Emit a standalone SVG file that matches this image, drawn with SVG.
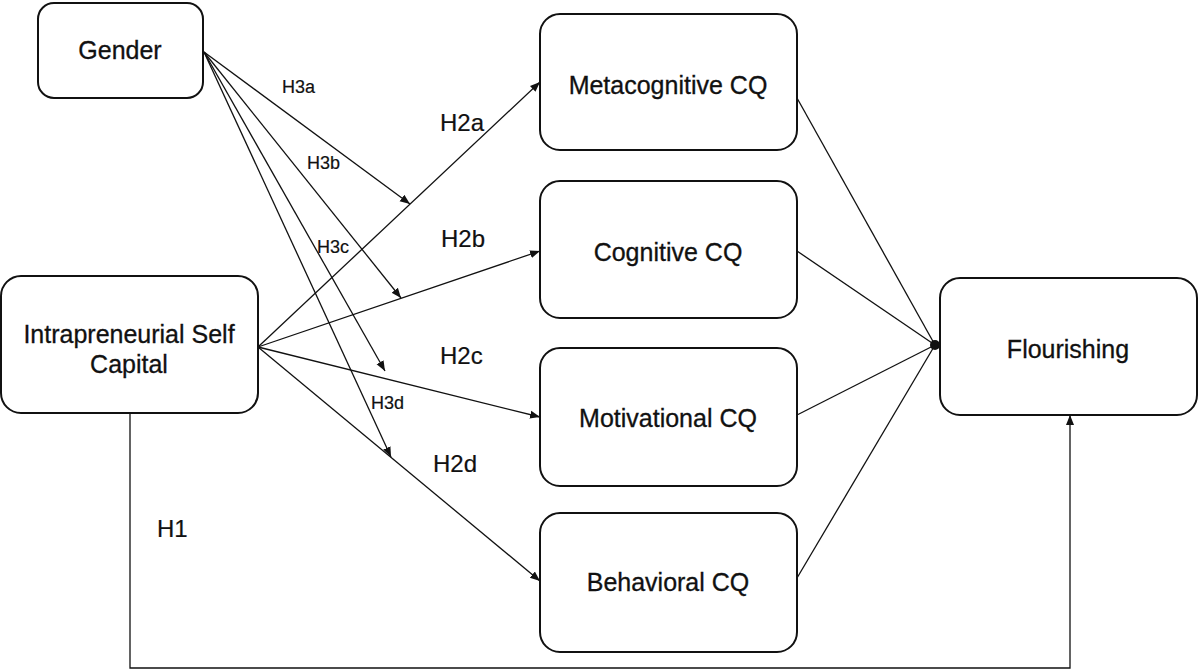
<svg xmlns="http://www.w3.org/2000/svg" width="1200" height="672" viewBox="0 0 1200 672">
<style>
.box{fill:#fff;stroke:#111;stroke-width:2}
.lbl{font-family:"Liberation Sans",Arial,sans-serif;font-size:25px;fill:#111;stroke:#111;stroke-width:0.3;text-anchor:middle}
.h{font-family:"Liberation Sans",Arial,sans-serif;font-size:24px;fill:#111;stroke:#111;stroke-width:0.2}
.hs{font-family:"Liberation Sans",Arial,sans-serif;font-size:18px;fill:#111;stroke:#111;stroke-width:0.2}
.c{fill:none;stroke:#111;stroke-width:1.3}
</style>
<defs>
<marker id="arr" viewBox="0 0 10 10" refX="10" refY="5" markerWidth="10" markerHeight="10" markerUnits="userSpaceOnUse" orient="auto">
<path d="M0,1 L10,5 L0,9 z" fill="#111"/>
</marker>
<marker id="dot" viewBox="0 0 10 10" refX="5" refY="5" markerWidth="10" markerHeight="10" markerUnits="userSpaceOnUse">
<circle cx="5" cy="5" r="5" fill="#111"/>
</marker>
</defs>
<g id="connectors">
<line class="c" x1="258" y1="347" x2="540" y2="82" marker-end="url(#arr)"/>
<line class="c" x1="258" y1="347" x2="540" y2="251" marker-end="url(#arr)"/>
<line class="c" x1="258" y1="347" x2="540" y2="417" marker-end="url(#arr)"/>
<line class="c" x1="258" y1="347" x2="540" y2="581" marker-end="url(#arr)"/>
<line class="c" x1="204" y1="52" x2="410" y2="204" marker-end="url(#arr)"/>
<line class="c" x1="204" y1="52" x2="401" y2="298" marker-end="url(#arr)"/>
<line class="c" x1="204" y1="52" x2="385" y2="371" marker-end="url(#arr)"/>
<line class="c" x1="204" y1="52" x2="391" y2="457" marker-end="url(#arr)"/>
<line class="c" x1="797" y1="98" x2="935" y2="345"/>
<line class="c" x1="797" y1="251" x2="935" y2="345"/>
<line class="c" x1="797" y1="415" x2="935" y2="345"/>
<line class="c" x1="797" y1="578" x2="935" y2="345" marker-end="url(#dot)"/>
<polyline class="c" points="130,413 130,668 1070,668 1070,415" marker-end="url(#arr)"/>
<text class="hs" x="282" y="93">H3a</text>
<text class="hs" x="307" y="169">H3b</text>
<text class="hs" x="317" y="253">H3c</text>
<text class="hs" x="371" y="409">H3d</text>
<text class="h" x="440" y="131">H2a</text>
<text class="h" x="441" y="247">H2b</text>
<text class="h" x="440" y="364">H2c</text>
<text class="h" x="433" y="472">H2d</text>
<text class="h" x="157" y="537">H1</text>
</g>
<g id="gender"><rect class="box" x="38" y="3" width="165" height="95" rx="16"/><text class="lbl" x="120" y="59">Gender</text></g>
<g id="isc"><rect class="box" x="1" y="276" width="257" height="137" rx="20"/><text class="lbl" x="129" y="343">Intrapreneurial Self</text><text class="lbl" x="129" y="373">Capital</text></g>
<g id="meta"><rect class="box" x="540" y="14" width="257" height="136" rx="20"/><text class="lbl" x="668" y="94">Metacognitive CQ</text></g>
<g id="cog"><rect class="box" x="540" y="181" width="257" height="137" rx="20"/><text class="lbl" x="668" y="261">Cognitive CQ</text></g>
<g id="mot"><rect class="box" x="540" y="348" width="257" height="138" rx="20"/><text class="lbl" x="668" y="427">Motivational CQ</text></g>
<g id="beh"><rect class="box" x="540" y="513" width="257" height="139" rx="20"/><text class="lbl" x="668" y="591">Behavioral CQ</text></g>
<g id="flour"><rect class="box" x="940" y="278" width="257" height="137" rx="20"/><text class="lbl" x="1068" y="358">Flourishing</text></g>
</svg>
